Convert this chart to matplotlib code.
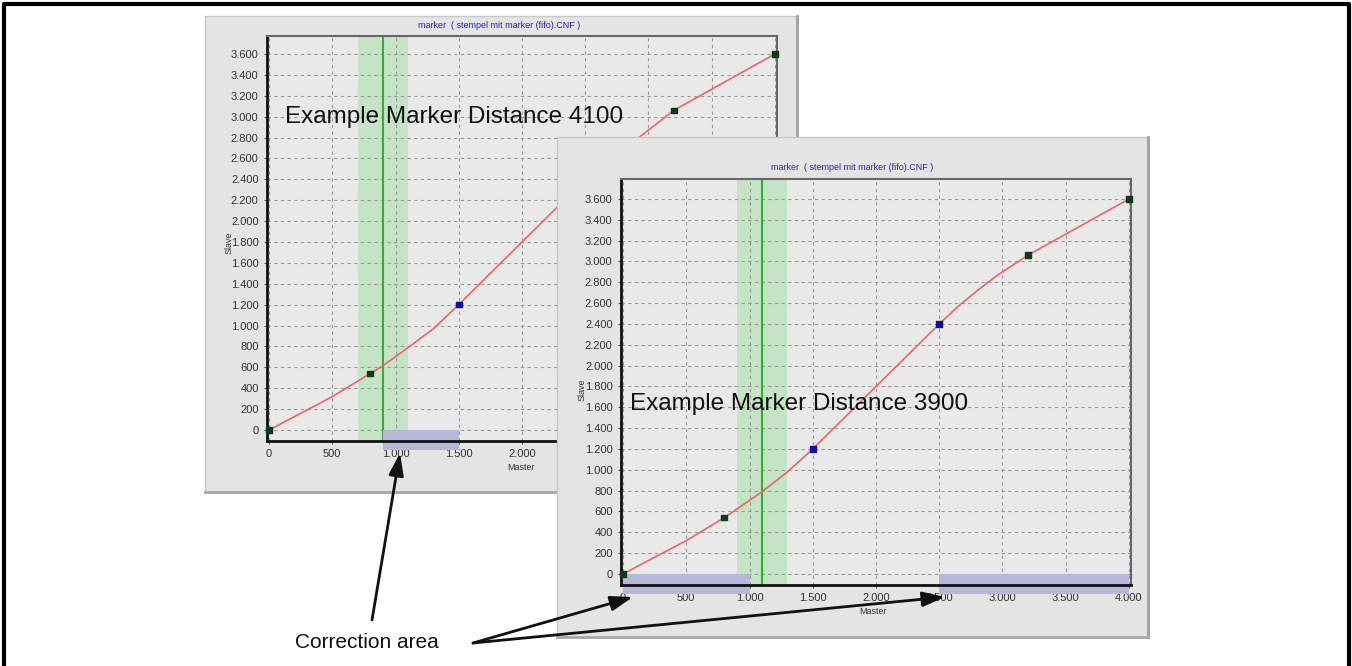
import matplotlib
matplotlib.use('Agg')
import matplotlib.pyplot as plt
from matplotlib.patches import Rectangle, FancyArrowPatch
from matplotlib.ticker import FuncFormatter, MultipleLocator

W, H = 1352, 666

# data
master_left = [0, 500, 800, 900, 1100, 1300, 1500, 2000, 2500, 3200, 4000]
slave_left = [0, 320, 540, 615, 790, 970, 1200, 1800, 2400, 3060, 3600]
mark_left_x = [0, 800, 1500, 3200, 4000]
mark_left_y = [0, 540, 1200, 3060, 3600]
mark_left_c = ['#0b3b1b', '#0b3b1b', '#10109a', '#0b3b1b', '#0b3b1b']
band_left = (700, 1100)
line_left = 900
corr_left = [(900, 1500)]
max_label_left = 2000   # labels further right are hidden under the second screenshot

master_right = [0, 500, 800, 1100, 1300, 1500, 2000, 2500, 2650, 2800, 2950, 3200, 3600, 4000]
slave_right = [0, 320, 540, 790, 980, 1200, 1800, 2400, 2570, 2720, 2860, 3060, 3330, 3600]
mark_right_x = [0, 800, 1500, 2500, 3200, 4000]
mark_right_y = [0, 540, 1200, 2400, 3060, 3600]
mark_right_c = ['#0b3b1b', '#0b3b1b', '#10109a', '#10109a', '#0b3b1b', '#0b3b1b']
band_right = (900, 1300)
line_right = 1100
corr_right = [(0, 1000), (2500, 4000)]

title = 'marker  ( stempel mit marker (fifo).CNF )'

plt.rcParams['font.family'] = ['Liberation Sans', 'DejaVu Sans']

fig = plt.figure(figsize=(W / 100, H / 100), dpi=100)
fig.patch.set_facecolor('white')


def fx(px):
    return px / W


def fy(py):
    return 1 - py / H


def rect(x0, y0, x1, y1):
    return [fx(x0), fy(y1), fx(x1) - fx(x0), fy(y0) - fy(y1)]


def thousands(v):
    v = int(round(v))
    if abs(v) >= 1000:
        return f'{v // 1000}.{v % 1000:03d}'
    return str(v)


def panel(x0, y0, x1, y1, z):
    fig.patches.append(Rectangle((fx(x0), fy(y1)), fx(x1) - fx(x0), fy(y0) - fy(y1),
                                 transform=fig.transFigure, facecolor='#e4e4e4',
                                 edgecolor='#c8c8c8', lw=1, zorder=z))
    fig.lines.append(plt.Line2D([fx(x1), fx(x1)], [fy(y1), fy(y0)], transform=fig.transFigure,
                                color='#a0a0a0', lw=2, zorder=z + 0.1))
    fig.lines.append(plt.Line2D([fx(x0), fx(x1)], [fy(y1), fy(y1)], transform=fig.transFigure,
                                color='#a8a8a8', lw=2, zorder=z + 0.1))


def chart(box, xlim, ylim, mx, my, mark_x, mark_y, mark_c, band, vline, corr, z,
          title_xy, slave_xy, master_xy, xmax_label=None):
    ax = fig.add_axes(rect(*box))
    ax.set_zorder(z)
    ax.set_facecolor('#e9e9e9')
    ax.set_xlim(*xlim)
    ax.set_ylim(*ylim)
    ax.xaxis.set_major_locator(MultipleLocator(500))
    ax.yaxis.set_major_locator(MultipleLocator(200))

    def xfmt(v, pos):
        if xmax_label is not None and v > xmax_label:
            return ''
        return thousands(v)

    ax.xaxis.set_major_formatter(FuncFormatter(xfmt))
    ax.yaxis.set_major_formatter(FuncFormatter(lambda v, pos: thousands(v)))
    ax.grid(True, color='#9a9a9a', linestyle=(0, (3, 3)), lw=0.8)
    ax.set_axisbelow(True)
    ax.tick_params(labelsize=8, labelcolor='#333333', length=2, color='#555555', pad=4)
    for s in ['left', 'bottom']:
        ax.spines[s].set_color('#111111')
        ax.spines[s].set_linewidth(2)
    for s in ['top', 'right']:
        ax.spines[s].set_color('#666666')
        ax.spines[s].set_linewidth(1.5)
    ax.axvspan(band[0], band[1], color='#bfe3bf', alpha=0.85, lw=0, zorder=0.5)
    ax.axvline(vline, color='#2fb32f', lw=1.5, zorder=1.5)
    for a, b in corr:
        ax.add_patch(Rectangle((a, -190), b - a, 190, facecolor='#b7b7d9', edgecolor='none',
                               clip_on=False, zorder=1.8))
    ax.plot(mx, my, color='#f06464', lw=1.2, zorder=2)
    ax.scatter(mark_x, mark_y, c=mark_c, marker='s', s=16, zorder=3, clip_on=False)
    fig.text(fx(title_xy[0]), fy(title_xy[1]), title, color='#2222cc', fontsize=6.5,
             ha='center', va='center', zorder=z + 0.5)
    fig.text(fx(slave_xy[0]), fy(slave_xy[1]), 'Slave', color='#333333', fontsize=6.5,
             rotation=90, ha='center', va='center', zorder=z + 0.5)
    fig.text(fx(master_xy[0]), fy(master_xy[1]), 'Master', color='#333333', fontsize=6.5,
             ha='center', va='center', zorder=z + 0.5)
    return ax


# left screenshot
panel(205, 16, 797, 492, 1)
chart((267, 36, 777, 441), (-16, 4016), (-105, 3772), master_left, slave_left,
      mark_left_x, mark_left_y, mark_left_c, band_left, line_left, corr_left, 2,
      (499, 25), (229, 243), (521, 467), xmax_label=max_label_left)

# right screenshot on top
panel(557, 137, 1148, 637, 3)
chart((621, 179, 1131, 585), (-16, 4016), (-106, 3792), master_right, slave_right,
      mark_right_x, mark_right_y, mark_right_c, band_right, line_right, corr_right, 4,
      (852, 168), (582, 390), (873, 611))

# annotations
fig.text(fx(285), fy(117), 'Example Marker Distance 4100', fontsize=17.5, color='#111111',
         ha='left', va='center', zorder=6)
fig.text(fx(630), fy(404), 'Example Marker Distance 3900', fontsize=17.5, color='#111111',
         ha='left', va='center', zorder=6)
fig.text(fx(295), fy(642), 'Correction area', fontsize=15, color='#111111',
         ha='left', va='center', zorder=6)

for tail, head in [((372, 620), (400, 453)), ((473, 643), (633, 597)), ((473, 643), (945, 597))]:
    fig.patches.append(FancyArrowPatch((fx(tail[0]), fy(tail[1])), (fx(head[0]), fy(head[1])),
                                       transform=fig.transFigure,
                                       arrowstyle='-|>,head_length=9,head_width=3',
                                       mutation_scale=1.5, color='#111111', lw=2, zorder=7,
                                       shrinkA=0, shrinkB=0))

# outer frame (open at the bottom)
fig.lines.append(plt.Line2D([fx(4), fx(4), fx(1349), fx(1349)], [fy(666), fy(4), fy(4), fy(666)],
                            transform=fig.transFigure, color='black', lw=3, zorder=8))

fig.savefig('out.png', dpi=100)
